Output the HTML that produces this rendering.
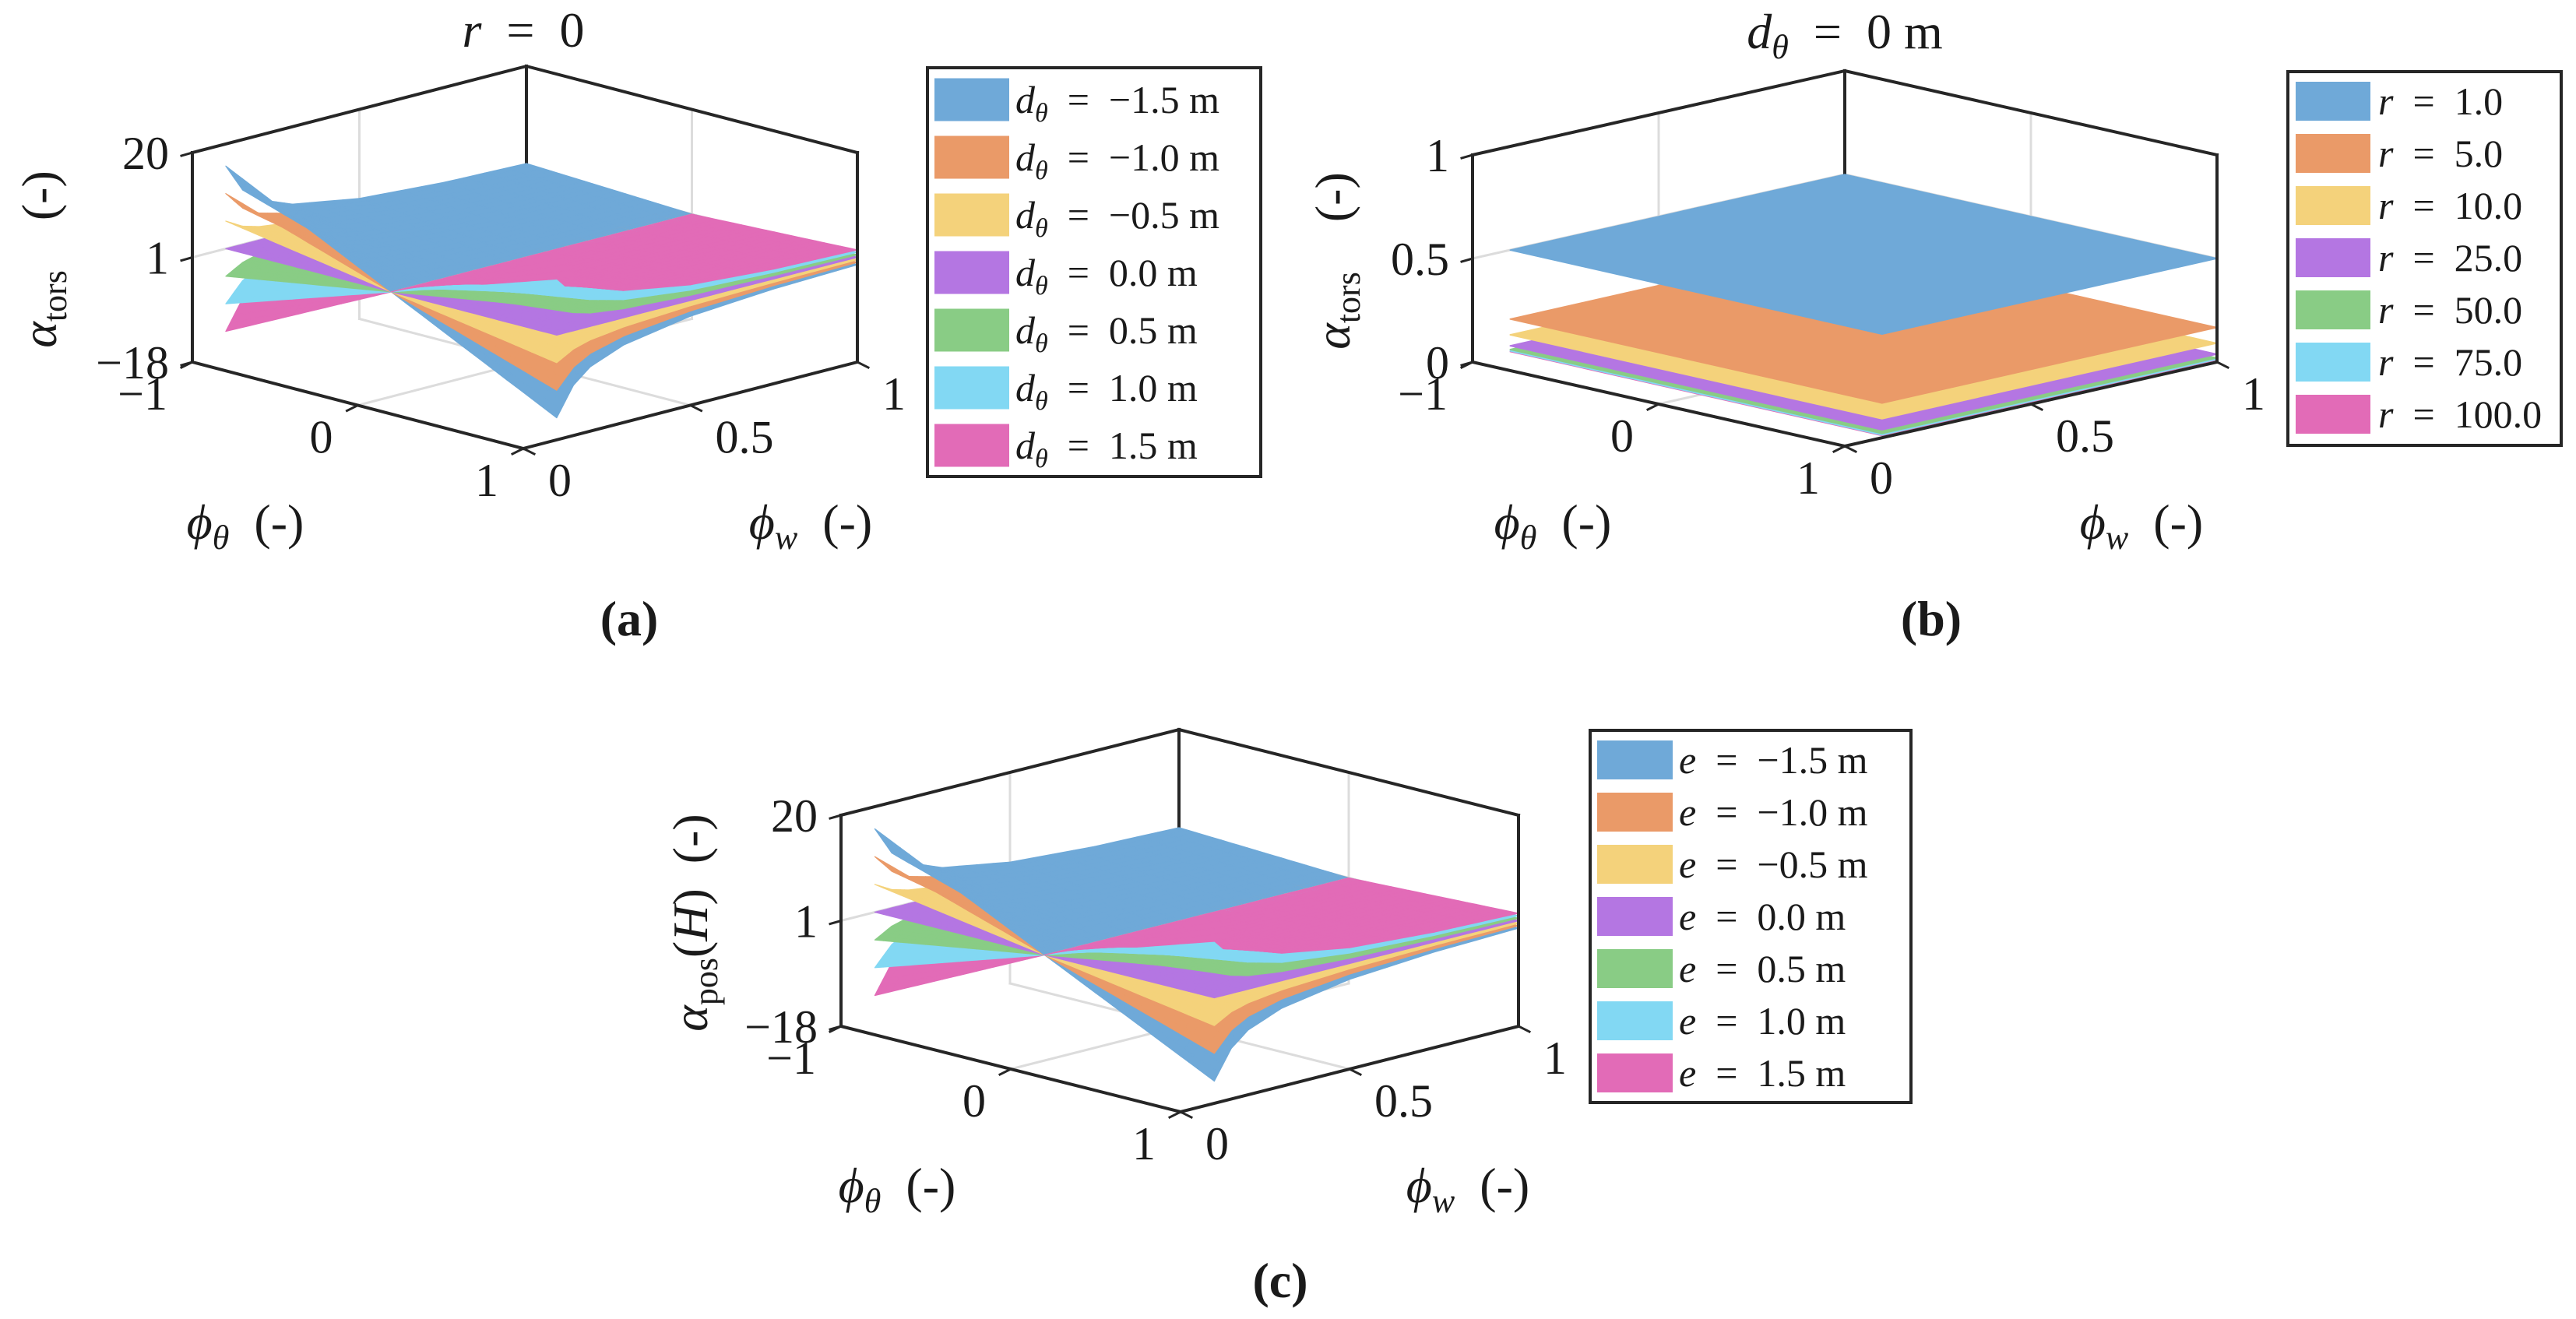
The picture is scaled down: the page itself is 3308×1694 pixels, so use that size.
<!DOCTYPE html>
<html><head><meta charset="utf-8">
<style>
html,body{margin:0;padding:0;background:#fff;}
svg{display:block;font-family:"Liberation Serif",serif;}
</style></head>
<body>
<svg id="fig" width="3308" height="1694" viewBox="0 0 3308 1694" xmlns="http://www.w3.org/2000/svg">
<rect x="0" y="0" width="3308" height="1694" fill="#fff"/>
<g id="pa"></g>
<g id="pb"></g>
<g id="pc"></g>
</svg>
<script>
// ---------------- data ----------------
const seriesColors = ["#6FA9D8","#EA9A68","#F4D27B","#B476E2","#89CC85","#82D8F3","#E26BB7"];
// panel (a): d_theta values and slope factor per series
const dThetaLabels = ["\u22121.5","\u22121.0","\u22120.5","0.0","0.5","1.0","1.5"];
const dThetaSlopes = [-15,-10,-5,0,5,10,15];
// shared shape along phi_w
const phiWGrid = [0.1,0.15,0.2,0.3,0.5,0.75,1.0];
const phiWShapeA = [1.0,0.66,0.49,0.33,0.19,0.12,0.09];
// panel (c): eccentricity values
const eLabels = ["\u22121.5","\u22121.0","\u22120.5","0.0","0.5","1.0","1.5"];
const eSlopes = [-15,-10,-5,0,5,10,15];
const phiWShapeC = [1.0,0.66,0.49,0.33,0.19,0.12,0.09];
// panel (b): r values and constant alpha level
const rLabels = ["1.0","5.0","10.0","25.0","50.0","75.0","100.0"];
const rLevels = [0.5,0.167,0.091,0.038,0.020,0.013,0.010];
// axis ticks
const zTicksA = [-18,1,20];
const zTicksB = [0,0.5,1];
const phiThetaTicks = [-1,0,1];
const phiWTicks = [0,0.5,1];

// ---------------- helpers ----------------
const NS = "http://www.w3.org/2000/svg";
function el(tag, attrs, parent){
  const e = document.createElementNS(NS, tag);
  for (const k in attrs) e.setAttribute(k, attrs[k]);
  if (parent) parent.appendChild(e);
  return e;
}
function makeAxes(cfg){
  const P = cfg;
  P.proj = function(pt, pw, z){
    const u = (pt+1)/2, v = pw;
    const x = P.L[0] + u*(P.F[0]-P.L[0]) + v*(P.R[0]-P.F[0]);
    const y = P.L[1] + u*(P.F[1]-P.L[1]) + v*(P.R[1]-P.F[1]) - (z-P.zmin)/(P.zmax-P.zmin)*P.H;
    return [x,y];
  };
  P.depth = function(pt, pw, z){
    const u=(pt+1)/2, v=pw, zn=(z-P.zmin)/(P.zmax-P.zmin);
    return (u - v)*410 + zn*72;
  };
  return P;
}
function line(g, a, b, stroke, w, name){
  const l = el("line",{x1:a[0],y1:a[1],x2:b[0],y2:b[1],stroke:stroke,"stroke-width":w,"stroke-linecap":"square"},g);
  
  
  return l;
}
function drawBack(g, P, zGridVal){
  const gc="#dcdcdc";
  line(g, P.proj(-1,0.5,P.zmin), P.proj(-1,0.5,P.zmax), gc, 3, "grid-line-left-wall");
  line(g, P.proj(0,1,P.zmin), P.proj(0,1,P.zmax), gc, 3, "grid-line-right-wall");
  line(g, P.proj(-1,0,zGridVal), P.proj(-1,1,zGridVal), gc, 3, "grid-line-z-left");
  line(g, P.proj(-1,1,zGridVal), P.proj(1,1,zGridVal), gc, 3, "grid-line-z-right");
  line(g, P.proj(0,0,P.zmin), P.proj(0,1,P.zmin), gc, 3, "grid-line-floor-theta");
  line(g, P.proj(-1,0.5,P.zmin), P.proj(1,0.5,P.zmin), gc, 3, "grid-line-floor-w");
  line(g, P.proj(-1,1,P.zmin), P.proj(-1,1,P.zmax), "#262626", 4, "axis-back-edge");
}
function drawFront(g, P){
  const c="#262626", w=4;
  line(g, P.proj(-1,0,P.zmin), P.proj(-1,0,P.zmax), c, w, "z-axis-line");
  line(g, P.proj(1,1,P.zmin), P.proj(1,1,P.zmax), c, w, "axis-right-edge");
  line(g, P.proj(-1,0,P.zmax), P.proj(-1,1,P.zmax), c, w, "axis-top-edge-left");
  line(g, P.proj(-1,1,P.zmax), P.proj(1,1,P.zmax), c, w, "axis-top-edge-right");
  line(g, P.proj(-1,0,P.zmin), P.proj(1,0,P.zmin), c, w, "phi-theta-axis-line");
  line(g, P.proj(1,0,P.zmin), P.proj(1,1,P.zmin), c, w, "phi-w-axis-line");
  const zt = P.zticks;
  for (let i=0;i<zt.length;i++){
    const p = P.proj(-1,0,zt[i]);
    line(g, p, [p[0]-14,p[1]+4], c, 3, "z-tick-mark");
  }
  for (let i=0;i<phiThetaTicks.length;i++){
    const p = P.proj(phiThetaTicks[i],0,P.zmin);
    line(g, p, [p[0]-14,p[1]+7], c, 3, "phi-theta-tick-mark");
  }
  for (let i=0;i<phiWTicks.length;i++){
    const p = P.proj(1,phiWTicks[i],P.zmin);
    line(g, p, [p[0]+14,p[1]+7], c, 3, "phi-w-tick-mark");
  }
}
function txt(g, x, y, str, opts, name){
  const t = el("text",{x:x,y:y,"font-size":opts.size||56,"text-anchor":opts.anchor||"middle",fill:"#1a1a1a"},g);
  if (opts.italic) t.setAttribute("font-style","italic");
  if (opts.bold) t.setAttribute("font-weight","bold");
  t.textContent = str;
  
  
  return t;
}
function tickLabels(g, P){
  const fmt = v => (v<0? "\u2212"+Math.abs(v) : String(v));
  for (let i=0;i<P.zticks.length;i++){
    const p = P.proj(-1,0,P.zticks[i]);
    txt(g, p[0]-30, p[1]+21, fmt(P.zticks[i]), {anchor:"end",size:60}, "z-tick-label");
  }
  for (let i=0;i<phiThetaTicks.length;i++){
    const p = P.proj(phiThetaTicks[i],0,P.zmin);
    txt(g, p[0]-32, p[1]+61, fmt(phiThetaTicks[i]), {anchor:"end",size:60}, "phi-theta-tick-label");
  }
  for (let i=0;i<phiWTicks.length;i++){
    const p = P.proj(1,phiWTicks[i],P.zmin);
    txt(g, p[0]+32, p[1]+61, fmt(phiWTicks[i]), {anchor:"start",size:60}, "phi-w-tick-label");
  }
}
function interpShape(shape, pw){
  for (let i=0;i<phiWGrid.length-1;i++){
    if (pw <= phiWGrid[i+1]+1e-9){
      const t=(pw-phiWGrid[i])/(phiWGrid[i+1]-phiWGrid[i]);
      return shape[i]+(shape[i+1]-shape[i])*t;
    }
  }
  return shape[shape.length-1];
}
function drawSurfaces(g, P, slopes, shape, name){
  const pts=[]; for (let i=0;i<=40;i++) pts.push(-1+i*0.05);
  const pws=[]; for (let i=0;i<phiWGrid.length-1;i++){ for (let k=0;k<4;k++) pws.push(phiWGrid[i]+(phiWGrid[i+1]-phiWGrid[i])*k/4); }
  pws.push(phiWGrid[phiWGrid.length-1]);
  const polys=[];
  for (let s=0;s<slopes.length;s++){
    const zf=(pt,pw)=>1+slopes[s]*pt*interpShape(shape,pw);
    for (let i=0;i<pts.length-1;i++) for (let j=0;j<pws.length-1;j++){
      const c=[[pts[i],pws[j]],[pts[i+1],pws[j]],[pts[i+1],pws[j+1]],[pts[i],pws[j+1]]];
      const sc=c.map(q=>P.proj(q[0],q[1],zf(q[0],q[1])));
      const mp=(pts[i]+pts[i+1])/2, mw=(pws[j]+pws[j+1])/2;
      polys.push({d:P.depth(mp,mw,zf(mp,mw))+s*0.01, pts:sc, s:s});
    }
  }
  polys.sort((a,b)=>a.d-b.d);
  for (const p of polys){
    const poly = el("polygon",{points:p.pts.map(q=>q[0].toFixed(1)+","+q[1].toFixed(1)).join(" "),fill:seriesColors[p.s],stroke:seriesColors[p.s],"stroke-width":1.2,"stroke-linejoin":"round"},g);
    
    
  }
}
function legend(g, box, labels, labelFn, name){
  const r = el("rect",{x:box.x,y:box.y,width:box.w,height:box.h,fill:"#fff",stroke:"#262626","stroke-width":4},g);
  
  
  for (let i=0;i<labels.length;i++){
    const cy = box.y0 + i*box.step;
    const sw = el("rect",{x:box.sx,y:cy-box.sh/2,width:box.sw,height:box.sh,fill:seriesColors[i]},g);
    
    
    const t = el("text",{x:box.tx,y:cy+17,"font-size":box.fs,fill:"#1a1a1a","xml:space":"preserve"},g);
    
    
    labelFn(t, labels[i]);
  }
}
function span(t, s, attrs){ const e=el("tspan",attrs||{},t); e.textContent=s; return e; }
function phiLabel(g,x,y,sub,name){
  const xl=txt(g,x,y,"",{size:64},name);
  span(xl,"\u03d5",{"font-style":"italic"}); span(xl,sub,{"font-style":"italic","font-size":44,dy:13}); span(xl,"\u2002(-)",{dy:-13});
}
function zLabel(g,x,y,sub,extra,name){
  const zl=txt(g,0,0,"",{size:64},name);
  zl.setAttribute("transform","translate("+x+","+y+") rotate(-90)");
  span(zl,"\u03b1",{"font-style":"italic"}); span(zl,sub,{"font-size":44,dy:13});
  if (extra){ span(zl,"(",{dy:-13}); span(zl,"H",{"font-style":"italic"}); span(zl,")\u2002(-)"); }
  else span(zl,"\u2003(-)",{dy:-13});
}

// ---------------- panel a ----------------
(function(){
  const g=document.getElementById("pa");
  const P=makeAxes({L:[247,465],F:[672,576],R:[1101,465],H:269,zmin:-18,zmax:20,zticks:zTicksA});
  drawBack(g,P,1);
  drawSurfaces(g,P,dThetaSlopes,phiWShapeA,"a");
  drawFront(g,P);
  tickLabels(g,P);
  const t=txt(g,672,60,"",{size:64},"title-a");
  span(t,"r",{"font-style":"italic"}); span(t,"\u2002=\u20020");
  phiLabel(g,315,692,"\u03b8","phi-theta-axis-title");
  phiLabel(g,1041,692,"w","phi-w-axis-title");
  zLabel(g,72,333,"tors",false,"z-axis-title");
  txt(g,808,816,"(a)",{size:64,bold:true},"caption-a");
  legend(g,{x:1191,y:87,w:428,h:525,y0:128,step:74,sx:1200,sw:96,sh:55,tx:1304,fs:50},dThetaLabels,function(t,l){
    span(t,"d",{"font-style":"italic"}); span(t,"\u03b8",{"font-style":"italic","font-size":34,dy:11}); span(t,"\u2002=\u2002"+l+" m",{dy:-11});
  },"a");
})();

// ---------------- panel b ----------------
(function(){
  const g=document.getElementById("pb");
  const P=makeAxes({L:[1891,465],F:[2369,573],R:[2847,465],H:266,zmin:0,zmax:1,zticks:zTicksB});
  drawBack(g,P,0.5);
  const order=rLevels.map((v,i)=>i).sort((a,b)=>rLevels[a]-rLevels[b]);
  for (const i of order){
    const c=[[-1,0.1],[1,0.1],[1,1],[-1,1]].map(q=>P.proj(q[0],q[1],rLevels[i]));
    const poly=el("polygon",{points:c.map(q=>q[0].toFixed(1)+","+q[1].toFixed(1)).join(" "),fill:seriesColors[i],stroke:seriesColors[i],"stroke-width":1.5},g);
    
    
  }
  drawFront(g,P);
  tickLabels(g,P);
  const t=txt(g,2369,62,"",{size:64},"title-b");
  span(t,"d",{"font-style":"italic"}); span(t,"\u03b8",{"font-style":"italic","font-size":44,dy:13}); span(t,"\u2002=\u20020 m",{dy:-13});
  phiLabel(g,1994,692,"\u03b8","phi-theta-axis-title");
  phiLabel(g,2750,692,"w","phi-w-axis-title");
  zLabel(g,1733,335,"tors",false,"z-axis-title");
  txt(g,2480,816,"(b)",{size:64,bold:true},"caption-b");
  legend(g,{x:2938,y:92,w:351,h:480,y0:130,step:67,sx:2948,sw:96,sh:50,tx:3054,fs:50},rLabels,function(t,l){
    span(t,"r",{"font-style":"italic"}); span(t,"\u2002=\u2002"+l);
  },"b");
})();

// ---------------- panel c ----------------
(function(){
  const g=document.getElementById("pc");
  const P=makeAxes({L:[1080,1318],F:[1516,1428],R:[1950,1318],H:271,zmin:-18,zmax:20,zticks:zTicksA});
  drawBack(g,P,1);
  drawSurfaces(g,P,eSlopes,phiWShapeC,"c");
  drawFront(g,P);
  tickLabels(g,P);
  phiLabel(g,1152,1544,"\u03b8","phi-theta-axis-title");
  phiLabel(g,1885,1544,"w","phi-w-axis-title");
  zLabel(g,908,1185,"pos",true,"z-axis-title");
  txt(g,1644,1666,"(c)",{size:64,bold:true},"caption-c");
  legend(g,{x:2042,y:938,w:412,h:478,y0:976,step:67,sx:2051,sw:97,sh:50,tx:2156,fs:50},eLabels,function(t,l){
    span(t,"e",{"font-style":"italic"}); span(t,"\u2002=\u2002"+l+" m");
  },"c");
})();
</script>
</body></html>
